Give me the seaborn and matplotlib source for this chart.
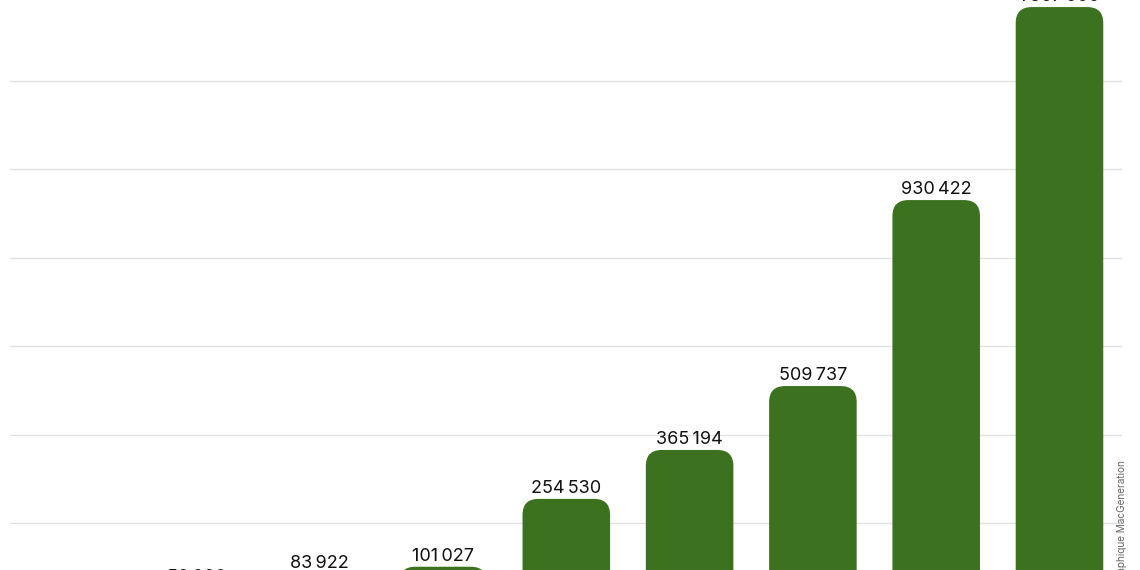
import matplotlib
matplotlib.use("Agg")
import matplotlib.pyplot as plt
from matplotlib.patches import FancyBboxPatch
import seaborn as sns

# Data (the first two bars sit below the visible crop)
categories = ["b1", "b2", "b3", "b4", "b5", "b6", "b7", "b8", "b9"]
values = [20000, 52000, 83922, 101027, 254530, 365194, 509737, 930422, 1367000]
grid_ticks = [200000, 400000, 600000, 800000, 1000000, 1200000]

BAR_COLOR = "#3b711f"
GRID_COLOR = "#e2e2e2"


def fmt(v):
    return f"{v:,}".replace(",", "\u2009")


def make_plot():
    sns.set_style("white")
    plt.rcParams['font.family'] = ['Inter', 'DejaVu Sans']

    fig = plt.figure(figsize=(11.4, 5.7), dpi=100)
    ax = fig.add_axes([10 / 1140, 0, 1112 / 1140, 1])

    sns.barplot(x=categories, y=values, color=BAR_COLOR, width=0.71,
                saturation=1, ax=ax, zorder=2)

    # swap plain rectangles for rounded ones
    for p in list(ax.patches):
        x0, y0 = p.get_x(), p.get_y()
        w, h = p.get_width(), p.get_height()
        p.remove()
        rb = FancyBboxPatch((x0, y0), w, h,
                            boxstyle="round,pad=0,rounding_size=0.13",
                            mutation_aspect=278000,
                            facecolor=BAR_COLOR, edgecolor="none", zorder=2)
        ax.add_patch(rb)

    for i, v in enumerate(values):
        ax.annotate(fmt(v), (i, v), xytext=(0, 6), textcoords="offset pixels",
                    ha="center", va="baseline", fontsize=13, color="#111111",
                    annotation_clip=False)

    # ticks first, limits after (set_yticks would widen the view)
    ax.set_yticks(grid_ticks)
    ax.set_xlim(-0.512, 8.507)
    ax.set_ylim(93650, 1383000)
    ax.yaxis.grid(True, color=GRID_COLOR, linewidth=1)
    ax.set_axisbelow(True)
    ax.tick_params(left=False, bottom=False, labelleft=False, labelbottom=False)
    ax.set_xlabel("")
    ax.set_ylabel("")
    sns.despine(ax=ax, left=True, bottom=True)

    fig.text(1122 / 1140, 1 - 460 / 570, "Graphique MacGeneration",
             rotation=90, ha="center", va="top", fontsize=7.2, color="#666666")

    fig.savefig("out.png", dpi=100)
    plt.close(fig)


if __name__ == "__main__":
    make_plot()
